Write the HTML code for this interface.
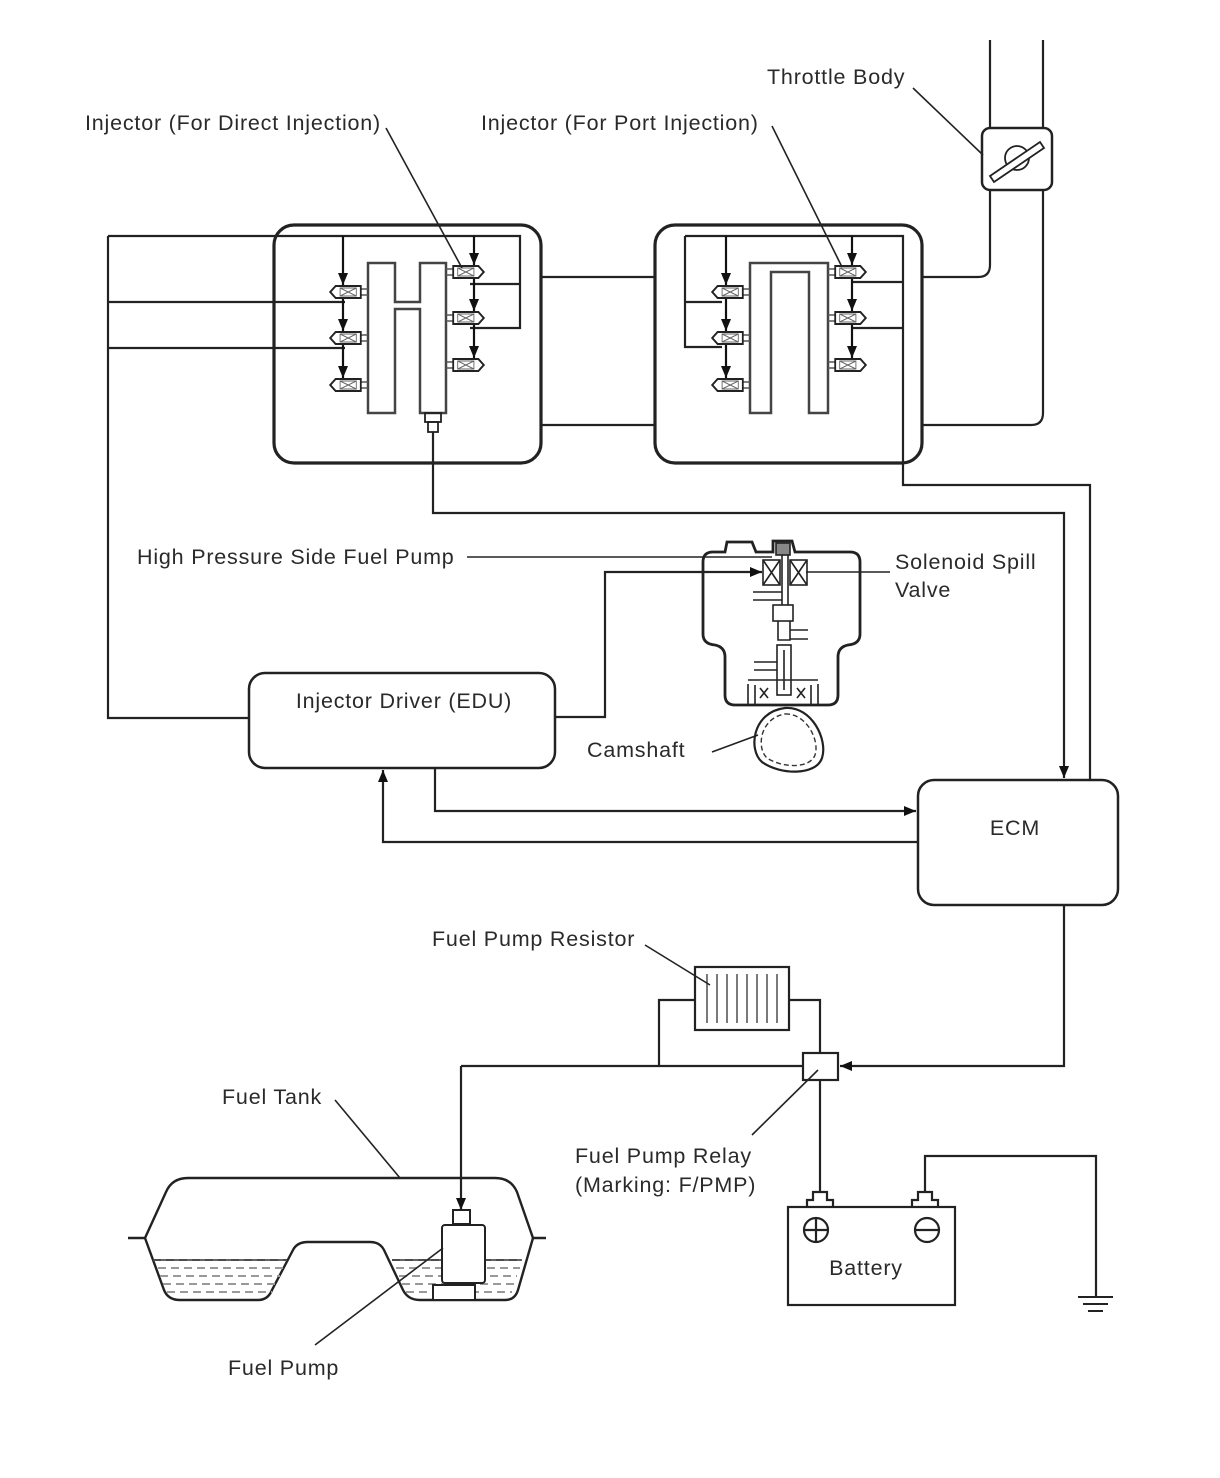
<!DOCTYPE html>
<html><head><meta charset="utf-8"><style>
html,body{margin:0;padding:0;background:#fff;}
svg{display:block;}
text{font-family:"Liberation Sans",sans-serif;font-size:21.5px;letter-spacing:0.8px;fill:#2a2a2a;}
</style></head><body>
<svg width="1220" height="1478" viewBox="0 0 1220 1478" xmlns="http://www.w3.org/2000/svg">
<defs>
<g id="inj">
  <line x1="0" y1="-3" x2="8" y2="-3" stroke="#555" stroke-width="1.5"/>
  <line x1="0" y1="3" x2="8" y2="3" stroke="#555" stroke-width="1.5"/>
  <path d="M8,-6 L36,-6 L42,0 L36,6 L8,6 Z" fill="#fff" stroke="#222" stroke-width="2"/>
  <rect x="13" y="-4" width="18" height="8" fill="none" stroke="#666" stroke-width="1"/>
  <path d="M13,-4 L31,4 M13,4 L31,-4" stroke="#666" stroke-width="1"/>
</g>
<marker id="ahs" markerWidth="12" markerHeight="16" refX="12" refY="5" orient="auto" markerUnits="userSpaceOnUse">
  <path d="M0,0 L12,5 L0,10 Z" fill="#111"/>
</marker>
</defs>
<g fill="none" stroke="#222" stroke-width="2.2">
<path d="M990,40 L990,128 M990,190 L990,265 Q990,277 978,277 L922,277"/>
<path d="M1043,40 L1043,128 M1043,190 L1043,413 Q1043,425 1031,425 L922,425"/>
<rect x="982" y="128" width="70" height="62" rx="8" stroke-width="2.5"/>
<circle cx="1017" cy="158" r="12" stroke-width="1.8"/>
<path d="M990,176 L1040,142 L1044,148 L994,182 Z" fill="#fff" stroke-width="1.8"/>
<rect x="274" y="225" width="267" height="238" rx="20" stroke-width="3.2"/>
<rect x="655" y="225" width="267" height="238" rx="20" stroke-width="3.2"/>
<line x1="541" y1="277" x2="655" y2="277"/>
<line x1="541" y1="425" x2="655" y2="425"/>
<path d="M108,236 L520,236 L520,328 L470,328 M520,284 L470,284"/>
<path d="M108,302 L345,302 M108,348 L345,348"/>
<path d="M108,236 L108,718 L249,718"/>
<path d="M368,263 L395,263 L395,302 L420,302 L420,263 L446,263 L446,413 L420,413 L420,309 L395,309 L395,413 L368,413 Z" fill="#fff" stroke="#444" stroke-width="2.5"/>
<rect x="425" y="413" width="16" height="9" stroke-width="1.8"/>
<rect x="428" y="422" width="10" height="10" stroke-width="1.8"/>
<path d="M433,432 L433,513 L1064,513 L1064,778" marker-end="url(#ahs)"/>
<path d="M685,236 L903,236 L903,485 L1090,485 L1090,780 M685,236 L685,347 L722,347 M685,302 L722,302 M903,282 L852,282 M903,328 L852,328"/>
<path d="M750,413 L750,263 L828,263 L828,413 L809,413 L809,272 L771,272 L771,413 Z" fill="#fff" stroke="#444" stroke-width="2.5"/>
</g>
<g stroke="#111" stroke-width="2.2" fill="none">
<line x1="343" y1="236" x2="343" y2="285" marker-end="url(#ahs)"/>
<line x1="343" y1="298" x2="343" y2="331" marker-end="url(#ahs)"/>
<line x1="343" y1="344" x2="343" y2="378" marker-end="url(#ahs)"/>
<line x1="474" y1="236" x2="474" y2="265" marker-end="url(#ahs)"/>
<line x1="474" y1="278" x2="474" y2="311" marker-end="url(#ahs)"/>
<line x1="474" y1="324" x2="474" y2="358" marker-end="url(#ahs)"/>
<line x1="726" y1="236" x2="726" y2="285" marker-end="url(#ahs)"/>
<line x1="726" y1="298" x2="726" y2="331" marker-end="url(#ahs)"/>
<line x1="726" y1="344" x2="726" y2="378" marker-end="url(#ahs)"/>
<line x1="852" y1="236" x2="852" y2="265" marker-end="url(#ahs)"/>
<line x1="852" y1="278" x2="852" y2="311" marker-end="url(#ahs)"/>
<line x1="852" y1="324" x2="852" y2="358" marker-end="url(#ahs)"/>
</g>
<use href="#inj" transform="translate(368,292) scale(-0.9,1)"/>
<use href="#inj" transform="translate(368,338) scale(-0.9,1)"/>
<use href="#inj" transform="translate(368,385) scale(-0.9,1)"/>
<use href="#inj" transform="translate(446,272) scale(0.9,1)"/>
<use href="#inj" transform="translate(446,318) scale(0.9,1)"/>
<use href="#inj" transform="translate(446,365) scale(0.9,1)"/>
<use href="#inj" transform="translate(750,292) scale(-0.9,1)"/>
<use href="#inj" transform="translate(750,338) scale(-0.9,1)"/>
<use href="#inj" transform="translate(750,385) scale(-0.9,1)"/>
<use href="#inj" transform="translate(828,272) scale(0.9,1)"/>
<use href="#inj" transform="translate(828,318) scale(0.9,1)"/>
<use href="#inj" transform="translate(828,365) scale(0.9,1)"/>
<g fill="none" stroke="#222" stroke-width="2.5">
<rect x="249" y="673" width="306" height="95" rx="16"/>
<rect x="918" y="780" width="200" height="125" rx="16"/>
</g>
<g fill="none" stroke="#222" stroke-width="2.8">
<path d="M703,562 Q703,552 713,552 L725,552 L727,542 L752,542 L756,552 L773,552 L773,541 L792,541 L795,552 L850,552 Q860,552 860,562 L860,634 Q860,644 848,645 Q838,647 838,657 L838,695 Q838,705 828,705 L735,705 Q725,705 725,695 L725,657 Q725,647 715,645 Q703,644 703,634 Z" fill="#fff"/>
</g>
<g fill="none" stroke="#222" stroke-width="2.2">
<path d="M555,717 L605,717 L605,572 L762,572" marker-end="url(#ahs)"/>
<path d="M435,768 L435,811 L916,811" marker-end="url(#ahs)"/>
<path d="M918,842 L383,842 L383,770" marker-end="url(#ahs)"/>
<path d="M1064,905 L1064,1066 L840,1066" marker-end="url(#ahs)"/>
</g>
<g fill="none" stroke="#222" stroke-width="1.6">
<rect x="763" y="560" width="17" height="25" fill="#fff"/><path d="M763,560 L780,585 M780,560 L763,585"/>
<rect x="790" y="560" width="17" height="25" fill="#fff"/><path d="M790,560 L807,585 M807,560 L790,585"/>
<rect x="776" y="543" width="14" height="12" fill="#888"/>
<path d="M782,555 L782,605 M788,555 L788,605"/>
<path d="M753,592 L782,592 M753,600 L782,600"/>
<rect x="773" y="605" width="20" height="16"/>
<path d="M778,621 L778,640 L790,640 L790,621 M790,630 L808,630 M790,639 L808,639"/>
<rect x="777" y="645" width="14" height="50"/>
<path d="M784,650 L784,690"/>
<path d="M754,662 L777,662 M754,670 L777,670"/>
<path d="M748,680 L818,680 M748,684 L748,705 M818,684 L818,705 M755,685 L755,705 M811,685 L811,705"/>
<path d="M760,688 L768,698 M768,688 L760,698 M797,688 L805,698 M805,688 L797,698"/>
<path d="M806,572 L890,572"/>
</g>
<path d="M785,708 C812,706 828,740 822,758 C816,776 780,775 762,762 C748,750 752,712 785,708 Z" fill="#fff" stroke="#222" stroke-width="2.2"/>
<path d="M785,714 C806,713 820,740 815,755 C810,769 782,768 767,758 C756,748 760,718 785,714 Z" fill="none" stroke="#333" stroke-width="1.4" stroke-dasharray="5,3"/>
<g fill="none" stroke="#222" stroke-width="2.2">
<rect x="695" y="967" width="94" height="63" fill="#fff"/>
<path d="M461,1066 L803,1066 M659,1066 L659,1000 L695,1000 M789,1000 L820,1000 L820,1053 M820,1080 L820,1192"/>
<path d="M461,1066 L461,1210" marker-end="url(#ahs)"/>
<rect x="803" y="1053" width="35" height="27" fill="#fff"/>
<path d="M925,1192 L925,1156 L1096,1156 L1096,1297"/>
<path d="M1078,1297 L1113,1297 M1083,1304 L1108,1304 M1088,1311 L1103,1311" stroke-width="2"/>
</g>
<g stroke="#333" stroke-width="1.3">
<path d="M707,974 V1023 M717,974 V1023 M727,974 V1023 M737,974 V1023 M747,974 V1023 M757,974 V1023 M767,974 V1023 M777,974 V1023"/>
</g>
<g fill="none" stroke="#222" stroke-width="2.2">
<rect x="788" y="1207" width="167" height="98" fill="#fff"/>
<path d="M807,1207 L807,1200 L813,1200 L813,1192 L827,1192 L827,1200 L833,1200 L833,1207"/>
<path d="M912,1207 L912,1200 L918,1200 L918,1192 L932,1192 L932,1200 L938,1200 L938,1207"/>
<circle cx="816" cy="1230" r="12"/><path d="M804,1230 H828 M816,1218 V1242"/>
<circle cx="927" cy="1230" r="12"/><path d="M915,1230 H939"/>
</g>
<g fill="none" stroke="#222" stroke-width="2.4">
<path d="M128,1238 L145,1238 L166,1192 Q172,1178 188,1178 L495,1178 Q511,1178 517,1192 L533,1238 L546,1238"/>
<path d="M145,1238 L164,1290 Q168,1300 180,1300 L258,1300 Q268,1300 272,1290 L293,1250 Q297,1242 308,1242 L370,1242 Q380,1242 384,1250 L403,1290 Q408,1300 420,1300 L505,1300 Q515,1300 518,1290 L533,1238"/>
</g>
<g stroke="#999" stroke-width="2" stroke-dasharray="8,5">
<path d="M153,1260 H287 M158,1268 H283 M160,1276 H280 M163,1284 H276 M167,1292 H272 M392,1260 H522 M396,1268 H520 M399,1276 H517 M402,1284 H514 M406,1292 H512"/>
</g>
<path d="M153,1260 H287 M392,1260 H522" stroke="#333" stroke-width="1.6"/>
<g fill="#fff" stroke="#222" stroke-width="2">
<rect x="433" y="1285" width="42" height="15"/>
<rect x="442" y="1225" width="43" height="58" rx="3"/>
<rect x="453" y="1210" width="17" height="14"/>
</g>
<g stroke="#222" stroke-width="1.6" fill="none">
<path d="M913,88 L983,155"/>
<path d="M386,128 L462,268"/>
<path d="M772,126 L842,267"/>
<path d="M467,557 L772,557"/>
<path d="M712,752 L758,735"/>
<path d="M645,945 L710,985"/>
<path d="M335,1100 L400,1178"/>
<path d="M752,1135 L818,1070"/>
<path d="M315,1345 L443,1248"/>
</g>
<text x="767" y="84">Throttle Body</text>
<text x="85" y="130">Injector (For Direct Injection)</text>
<text x="481" y="130">Injector (For Port Injection)</text>
<text x="137" y="564">High Pressure Side Fuel Pump</text>
<text x="895" y="569">Solenoid Spill</text>
<text x="895" y="597">Valve</text>
<text x="404" y="708" text-anchor="middle">Injector Driver (EDU)</text>
<text x="587" y="757">Camshaft</text>
<text x="1015" y="835" text-anchor="middle">ECM</text>
<text x="432" y="946">Fuel Pump Resistor</text>
<text x="222" y="1104">Fuel Tank</text>
<text x="575" y="1163">Fuel Pump Relay</text>
<text x="575" y="1192">(Marking: F/PMP)</text>
<text x="866" y="1275" text-anchor="middle">Battery</text>
<text x="228" y="1375">Fuel Pump</text>
</svg>
</body></html>
